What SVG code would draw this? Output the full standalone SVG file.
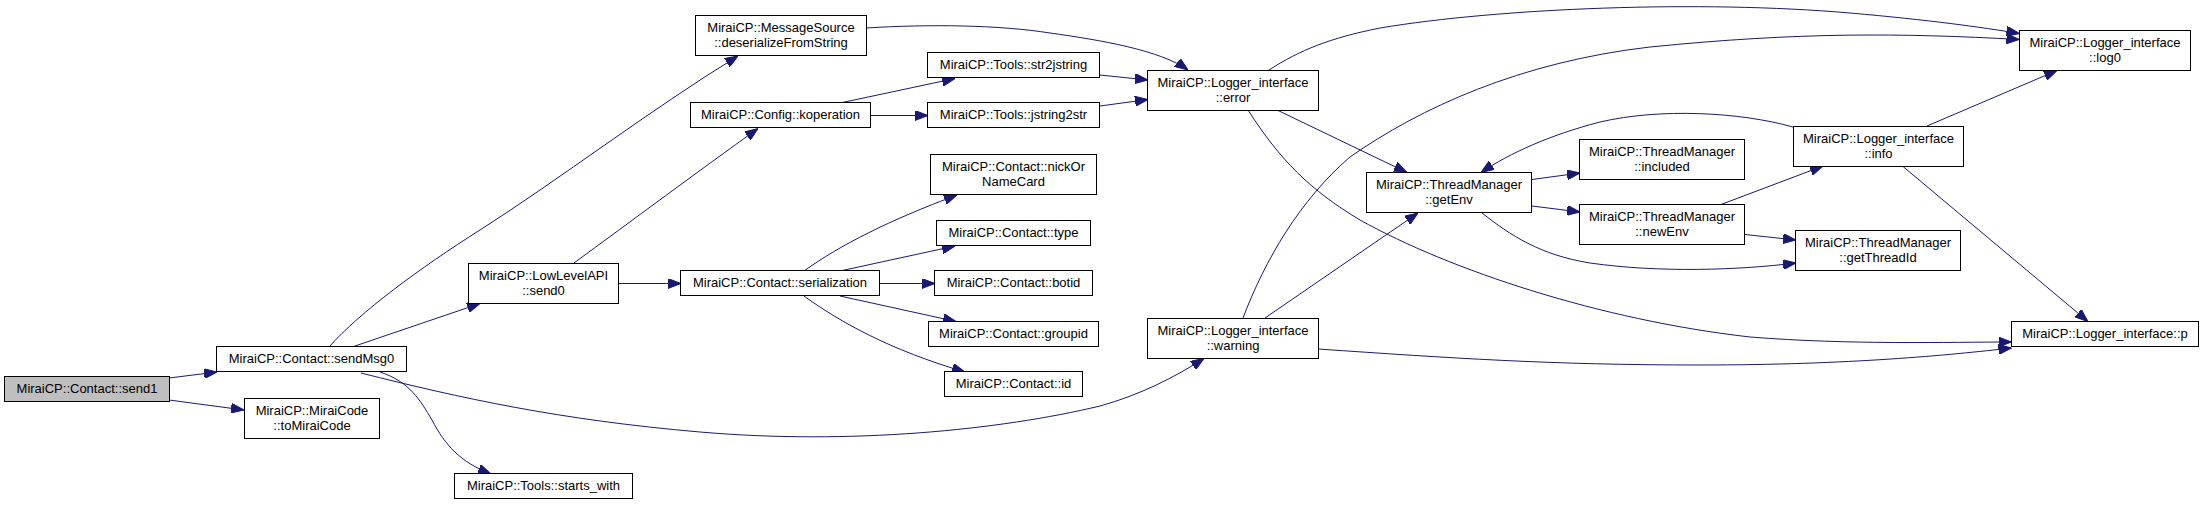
<svg xmlns="http://www.w3.org/2000/svg" width="2204" height="505" viewBox="0 0 2204 505">
<style>
.n rect{fill:#fff;stroke:#000;stroke-width:1}
.n.root rect{fill:#bfbfbf}
.n text{font-family:"Liberation Sans",Arial,sans-serif;font-size:13px;fill:#000;text-anchor:middle}
.e path{fill:none;stroke:#191970;stroke-width:1;marker-end:url(#ah)}
</style>
<defs>
<marker id="ah" viewBox="0 0 13 10" refX="13" refY="5" markerWidth="13" markerHeight="10" markerUnits="userSpaceOnUse" orient="auto">
<path d="M0,0 L13,5 L0,10 z" fill="#191970" stroke="#191970" stroke-width="1"/>
</marker>
</defs>
<rect width="2204" height="505" fill="#fff"/>
<g id="edges" class="e">
<path d="M169,378 L217,372"/>
<path d="M169,400 L244,410"/>
<path d="M352,347 L480,303.5"/>
<path d="M329,347 C360,312 420,268 480,230 C560,179 650,110 738,56"/>
<path d="M380,372 C410,382 420,400 432,420 C445,445 460,462 491,474"/>
<path d="M361,373 C460,398 560,420 700,432 C850,445 1000,430 1100,406 C1140,395 1175,377 1204,358.5"/>
<path d="M574,263 C630,222 700,170 758,128.5"/>
<path d="M619,283.5 L681,283.5"/>
<path d="M866,28 C930,24 1000,25 1050,33 C1100,40 1160,50 1188,70"/>
<path d="M840,103 L955,78.5"/>
<path d="M871,115.5 L928,115.5"/>
<path d="M1100,75 L1148,80"/>
<path d="M1100,106 L1148,99.5"/>
<path d="M804,271 C840,245 890,220 957,195"/>
<path d="M840,271 L955,246"/>
<path d="M880,283.5 L935,283.5"/>
<path d="M840,296 L956,321.5"/>
<path d="M804,296 C840,322 890,350 965,372"/>
<path d="M1269,70 C1300,50 1330,38 1380,28 C1500,8 1700,0 1850,13 C1930,20 1980,27 2019.5,33.5"/>
<path d="M1277,110 L1407,172.5"/>
<path d="M1248,110 C1280,160 1310,190 1360,220 C1450,270 1600,320 1750,337 C1850,345 1950,342 2011.5,342"/>
<path d="M1243,318 C1265,260 1300,200 1350,157 C1420,108 1520,62 1650,47 C1800,32 1900,33 2019.5,39.5"/>
<path d="M1265,318 L1418,213"/>
<path d="M1318,349 C1450,358 1550,365 1700,365 C1850,365 1950,355 2011.5,348"/>
<path d="M1532,179.5 L1580,173"/>
<path d="M1532,206 L1580,212"/>
<path d="M1482,213 C1510,235 1540,255 1590,263 C1660,273 1740,270 1796,263"/>
<path d="M1721,204.5 L1823,166"/>
<path d="M1745,234.5 L1796,240"/>
<path d="M1793,127 C1740,112 1660,108 1600,122 C1550,135 1510,153 1481,172.5"/>
<path d="M1927,126 L2057,70.5"/>
<path d="M1903,166.5 L2088,321.5"/>
</g>
<g id="send1" class="n root"><rect x="4.5" y="376.5" width="165" height="25"/><text x="87" y="392.5">MiraiCP::Contact::send1</text></g>
<g id="sendMsg0" class="n"><rect x="216.5" y="346.5" width="190" height="25"/><text x="311.5" y="362.5">MiraiCP::Contact::sendMsg0</text></g>
<g id="toMiraiCode" class="n"><rect x="244.5" y="398.5" width="135" height="40"/><text x="312" y="414.5">MiraiCP::MiraiCode</text><text x="312" y="429.5">::toMiraiCode</text></g>
<g id="starts_with" class="n"><rect x="454.5" y="473.5" width="178" height="25"/><text x="543.5" y="489.5">MiraiCP::Tools::starts_with</text></g>
<g id="send0" class="n"><rect x="468.5" y="263.5" width="150" height="40"/><text x="543.5" y="279.5">MiraiCP::LowLevelAPI</text><text x="543.5" y="294.5">::send0</text></g>
<g id="deserializeFromString" class="n"><rect x="695.5" y="15.5" width="171" height="40"/><text x="781" y="31.5">MiraiCP::MessageSource</text><text x="781" y="46.5">::deserializeFromString</text></g>
<g id="koperation" class="n"><rect x="690.5" y="102.5" width="180" height="25"/><text x="780.5" y="118.5">MiraiCP::Config::koperation</text></g>
<g id="serialization" class="n"><rect x="680.5" y="270.5" width="199" height="25"/><text x="780" y="286.5">MiraiCP::Contact::serialization</text></g>
<g id="str2jstring" class="n"><rect x="927.5" y="52.5" width="172" height="25"/><text x="1013.5" y="68.5">MiraiCP::Tools::str2jstring</text></g>
<g id="jstring2str" class="n"><rect x="927.5" y="102.5" width="172" height="25"/><text x="1013.5" y="118.5">MiraiCP::Tools::jstring2str</text></g>
<g id="nickOrNameCard" class="n"><rect x="930.5" y="154.5" width="166" height="40"/><text x="1013.5" y="170.5">MiraiCP::Contact::nickOr</text><text x="1013.5" y="185.5">NameCard</text></g>
<g id="type" class="n"><rect x="936.5" y="220.5" width="154" height="25"/><text x="1013.5" y="236.5">MiraiCP::Contact::type</text></g>
<g id="botid" class="n"><rect x="934.5" y="270.5" width="158" height="25"/><text x="1013.5" y="286.5">MiraiCP::Contact::botid</text></g>
<g id="groupid" class="n"><rect x="928.5" y="321.5" width="170" height="25"/><text x="1013.5" y="337.5">MiraiCP::Contact::groupid</text></g>
<g id="id" class="n"><rect x="944.5" y="371.5" width="138" height="25"/><text x="1013.5" y="387.5">MiraiCP::Contact::id</text></g>
<g id="error" class="n"><rect x="1147.5" y="70.5" width="171" height="40"/><text x="1233" y="86.5">MiraiCP::Logger_interface</text><text x="1233" y="101.5">::error</text></g>
<g id="warning" class="n"><rect x="1147.5" y="318.5" width="171" height="40"/><text x="1233" y="334.5">MiraiCP::Logger_interface</text><text x="1233" y="349.5">::warning</text></g>
<g id="getEnv" class="n"><rect x="1366.5" y="172.5" width="165" height="40"/><text x="1449" y="188.5">MiraiCP::ThreadManager</text><text x="1449" y="203.5">::getEnv</text></g>
<g id="included" class="n"><rect x="1579.5" y="139.5" width="165" height="40"/><text x="1662" y="155.5">MiraiCP::ThreadManager</text><text x="1662" y="170.5">::included</text></g>
<g id="newEnv" class="n"><rect x="1579.5" y="204.5" width="165" height="40"/><text x="1662" y="220.5">MiraiCP::ThreadManager</text><text x="1662" y="235.5">::newEnv</text></g>
<g id="info" class="n"><rect x="1793.5" y="126.5" width="170" height="40"/><text x="1878.5" y="142.5">MiraiCP::Logger_interface</text><text x="1878.5" y="157.5">::info</text></g>
<g id="getThreadId" class="n"><rect x="1795.5" y="230.5" width="165" height="40"/><text x="1878" y="246.5">MiraiCP::ThreadManager</text><text x="1878" y="261.5">::getThreadId</text></g>
<g id="log0" class="n"><rect x="2019.5" y="30.5" width="171" height="40"/><text x="2105" y="46.5">MiraiCP::Logger_interface</text><text x="2105" y="61.5">::log0</text></g>
<g id="p" class="n"><rect x="2011.5" y="321.5" width="187" height="25"/><text x="2105" y="337.5">MiraiCP::Logger_interface::p</text></g>
</svg>
